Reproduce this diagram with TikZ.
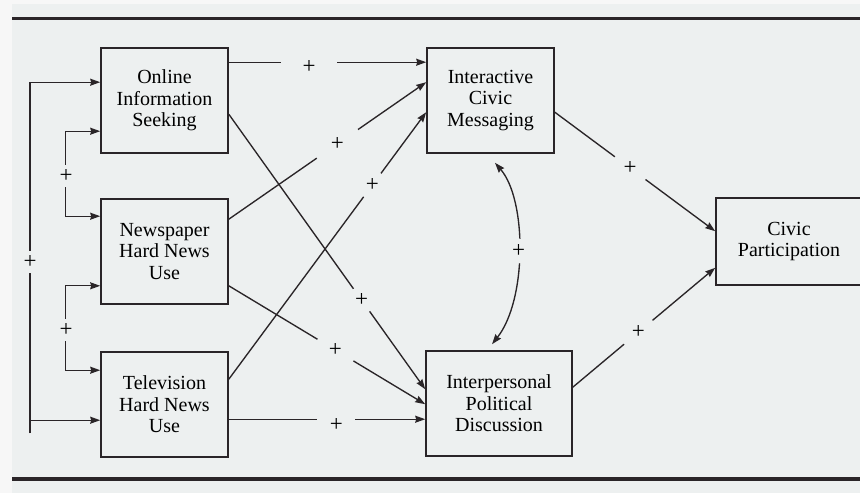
\documentclass[tikz,border=0pt]{standalone}
\usepackage{fontspec}
\setmainfont{Liberation Serif}
\usetikzlibrary{arrows.meta,calc}
\definecolor{bg}{HTML}{EDF0F0}
\definecolor{paper}{HTML}{F7F7F7}
\definecolor{ink}{HTML}{2A2528}
\begin{document}
\begin{tikzpicture}[x=1pt,y=-1pt,
  box/.style={draw=ink, line width=1.6pt, fill=bg, minimum width=127pt, minimum height=105pt, inner sep=0pt, align=center, text=black, font=\fontsize{20}{21.5}\selectfont},
  conn/.style={draw=ink, line width=1.35pt, -{Stealth[length=10pt,width=7pt,inset=1pt]}},
  both/.style={draw=ink, line width=1.35pt, {Stealth[length=10pt,width=7pt,inset=1pt]}-{Stealth[length=10pt,width=7pt,inset=1pt]}},
  pl/.style={circle, fill=bg, inner sep=0pt, text=black, font=\fontsize{23}{23}\selectfont},
  plr/.style={rectangle, fill=bg, inner sep=0pt, text=black, font=\fontsize{23}{23}\selectfont},
]
\useasboundingbox (0,0) rectangle (860,493);
\fill[paper] (0,0) rectangle (860,493);
\fill[bg] (12,4) rectangle (860,493);
\draw[ink, line width=3pt] (12,18.5) -- (860,18.5);
\draw[ink, line width=4pt] (12,478.7) -- (860,478.7);

% boxes
\node[box] (onl) at (164.5,100.5) {Online\\Information\\Seeking};
\node[box] (news) at (164.5,251.5) {Newspaper\\Hard News\\Use};
\node[box] (tv) at (164.5,404.5) {Television\\Hard News\\Use};
\node[box] (icm) at (490.5,100.5) {Interactive\\Civic\\Messaging};
\node[box, minimum width=146pt] (ipd) at (499,403.5) {Interpersonal\\Political\\Discussion};
\node[box, minimum width=146pt, minimum height=87pt] (civ) at (789,241.5) {Civic\\Participation};

% left correlations
\coordinate (lb) at (30,433);
\draw[conn] (lb) |- ([yshift=-35pt]onl.north west);
\draw[conn] (lb) |- ([yshift=-69pt]tv.north west);
\node[pl, minimum size=22pt] (p1) at (30,262) {+};
\draw[both] ([yshift=-84pt]onl.north west) -- ++(-35,0) |- ([yshift=-18pt]news.north west);
\node[pl, minimum size=22pt] (p2) at (66,176) {+};
\draw[both] ([yshift=19pt]news.south west) -- ++(-35,0) |- ([yshift=-19pt]tv.north west);
\node[pl, minimum size=22pt] (p3) at (66,330) {+};

% paths to mediators
\draw[conn] ([yshift=-15pt]onl.north east) -- node[plr, pos=0.407, yshift=-5pt, minimum width=56pt, minimum height=16pt] {+} ([yshift=-15pt]icm.north west);
\draw[conn] ([yshift=-67pt]onl.north east) -- node[pl, pos=0.676, minimum size=28pt] {+} ([yshift=-39pt]ipd.north west);
\draw[conn] ([yshift=-21pt]news.north east) -- node[pl, pos=0.55, minimum size=50pt] {+} ([yshift=-35pt]icm.north west);
\draw[conn] ([yshift=19pt]news.south east) -- node[pl, pos=0.543, minimum size=42pt] {+} ([yshift=-54pt]ipd.north west);
\draw[conn] ([yshift=-28pt]tv.north east) -- node[pl, pos=0.727, minimum size=29pt] {+} ([yshift=-65pt]icm.north west);
\draw[conn] ([yshift=-68pt]tv.north east) -- node[plr, pos=0.548, yshift=-6pt, minimum width=38pt, minimum height=18pt] {+} ([yshift=-69pt]ipd.north west);

% to outcome
\draw[conn] ([yshift=-65pt]icm.north east) -- node[pl, pos=0.47, minimum size=38pt] {+} ([yshift=-34pt]civ.north west);
\draw[conn] ([yshift=-37pt]ipd.north east) -- node[pl, pos=0.46, minimum size=37pt] {+} ([yshift=18pt]civ.south west);

% reciprocal
\draw[both] ([xshift=4.5pt,yshift=-9pt]icm.south) .. controls (527,200) and (527,300) .. ([xshift=-7pt,yshift=6pt]ipd.north) node[pl, pos=0.5, minimum size=25pt] {+};
\end{tikzpicture}
\end{document}
